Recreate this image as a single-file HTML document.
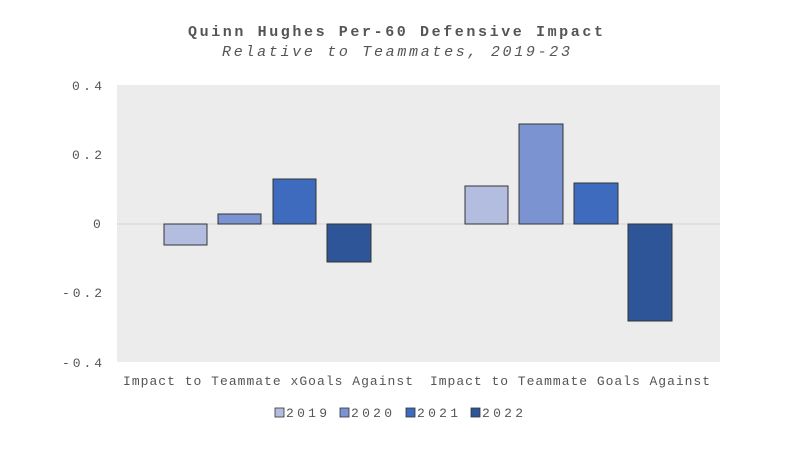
<!DOCTYPE html>
<html><head><style>body{margin:0;background:#fff}</style></head><body>
<svg width="800" height="454" xmlns="http://www.w3.org/2000/svg" font-family="Liberation Mono, monospace">
<text x="188" y="36" textLength="415" lengthAdjust="spacing" font-size="15" font-weight="bold" fill="#555">Quinn Hughes Per-60 Defensive Impact</text>
<text x="222" y="56" textLength="348" lengthAdjust="spacing" font-size="15" font-style="italic" fill="#555">Relative to Teammates, 2019-23</text>
<rect x="117" y="85" width="603" height="277" fill="#ececec"/>
<line x1="117" y1="224" x2="720" y2="224" stroke="#d4d4d4" stroke-width="1"/>
<g font-size="13" fill="#555">
<text x="72" y="90" textLength="30" lengthAdjust="spacing">0.4</text>
<text x="72" y="159" textLength="30" lengthAdjust="spacing">0.2</text>
<text x="93" y="228">0</text>
<text x="62" y="297" textLength="40" lengthAdjust="spacing">-0.2</text>
<text x="62" y="367" textLength="40" lengthAdjust="spacing">-0.4</text>
</g>
<g stroke="#333" stroke-width="1">
<rect x="164" y="224" width="43" height="21" fill="#b3bde0"/>
<rect x="218" y="214" width="43" height="10" fill="#7b93d1"/>
<rect x="273" y="179" width="43" height="45" fill="#3e6bbd"/>
<rect x="327" y="224" width="44" height="38" fill="#2e5597"/>
<rect x="465" y="186" width="43" height="38" fill="#b3bde0"/>
<rect x="519" y="124" width="44" height="100" fill="#7b93d1"/>
<rect x="574" y="183" width="44" height="41" fill="#3e6bbd"/>
<rect x="628" y="224" width="44" height="97" fill="#2e5597"/>
</g>
<g font-size="13" fill="#555">
<text x="123" y="385" textLength="290" lengthAdjust="spacing">Impact to Teammate xGoals Against</text>
<text x="430" y="385" textLength="280" lengthAdjust="spacing">Impact to Teammate Goals Against</text>
</g>
<g stroke="#333" stroke-width="0.8">
<rect x="275" y="408" width="9" height="9" fill="#b3bde0"/>
<rect x="340" y="408" width="9" height="9" fill="#7b93d1"/>
<rect x="406" y="408" width="9" height="9" fill="#3e6bbd"/>
<rect x="471" y="408" width="9" height="9" fill="#2e5597"/>
</g>
<g font-size="13" fill="#555">
<text x="286" y="417" textLength="41" lengthAdjust="spacing">2019</text>
<text x="351" y="417" textLength="41" lengthAdjust="spacing">2020</text>
<text x="417" y="417" textLength="41" lengthAdjust="spacing">2021</text>
<text x="482" y="417" textLength="41" lengthAdjust="spacing">2022</text>
</g>
</svg>
</body></html>
